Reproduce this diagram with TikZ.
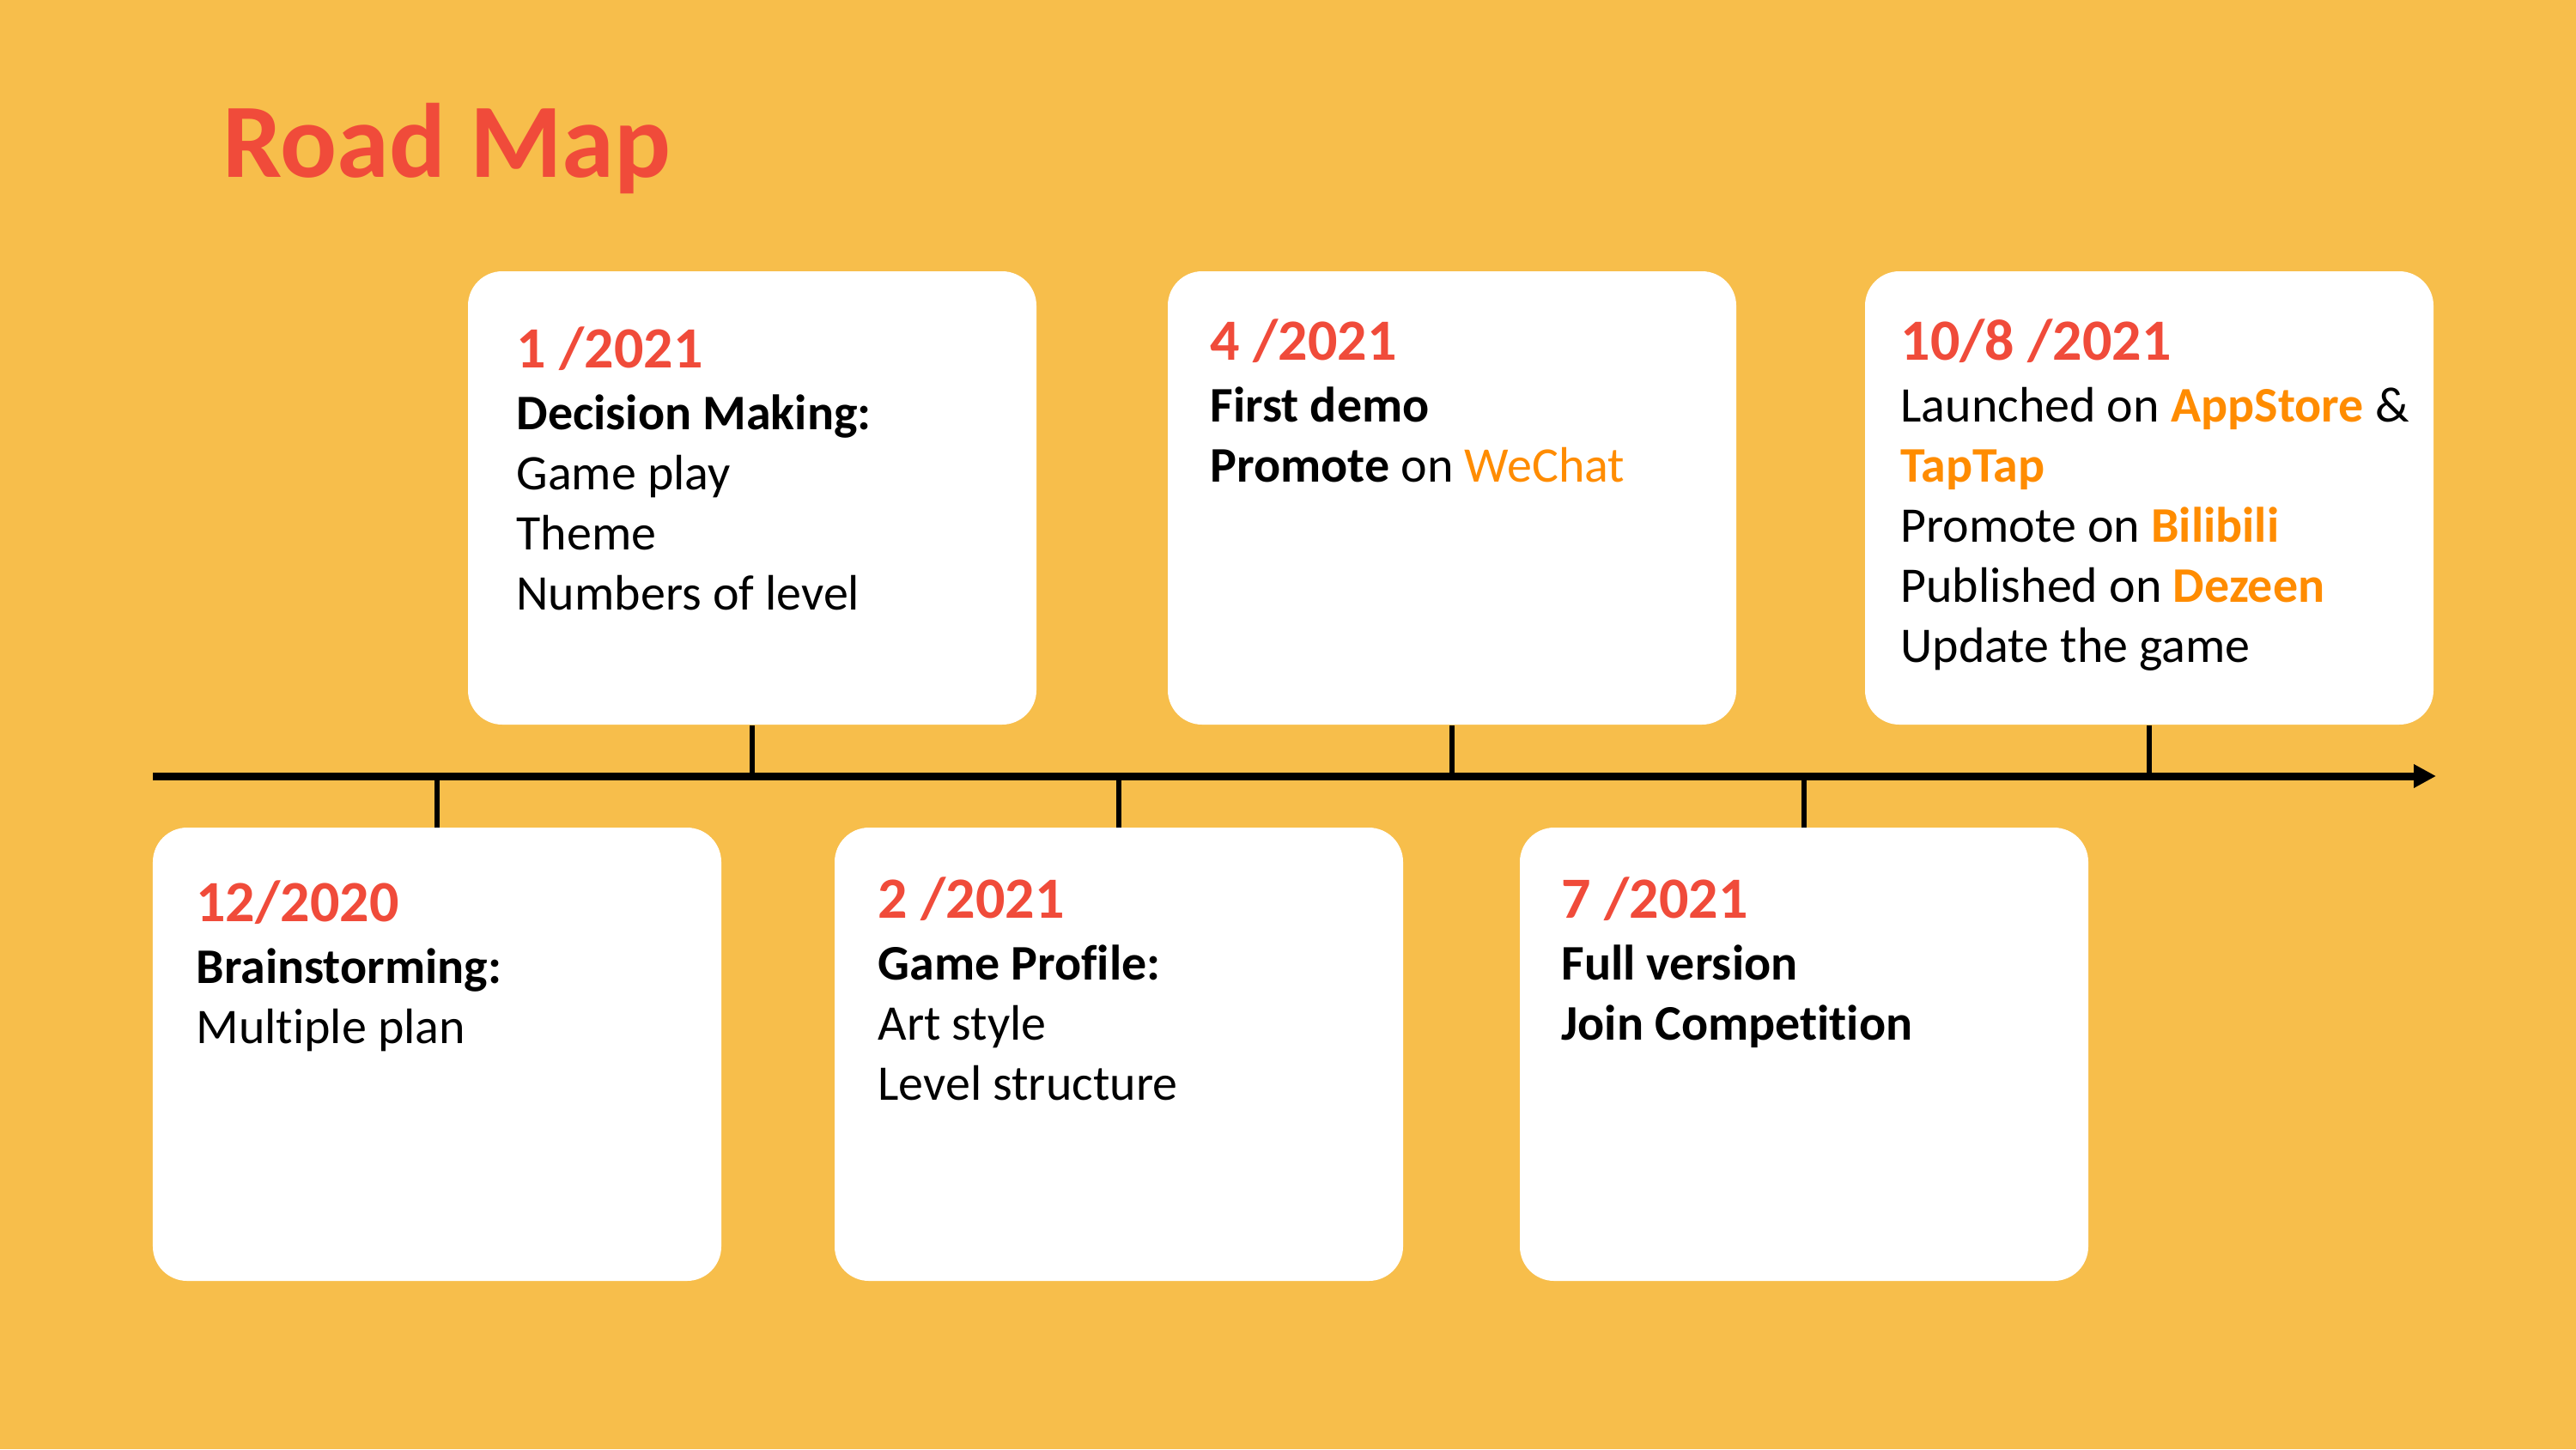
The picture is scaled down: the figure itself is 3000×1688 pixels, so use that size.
\documentclass[tikz,border=0pt]{standalone}
\usepackage{fontspec}
\setmainfont[Ligatures=NoCommon]{Carlito}
\usetikzlibrary{arrows.meta}

\definecolor{bgamber}{HTML}{F7BE4B}
\definecolor{datered}{HTML}{F04B3A}
\definecolor{hiorange}{HTML}{FF8C00}

\newcommand{\hl}[1]{\textcolor{hiorange}{#1}}
\newcommand{\hlb}[1]{\textcolor{hiorange}{\bfseries #1}}
% one line of a card; the first one carries the date
\newcommand{\rowtext}[1]{\hbox{#1}}
\newcommand{\daterow}[1]{\hbox{\fontsize{27.2}{28}\selectfont\bfseries\color{datered}#1}\kern0.8pt}

\tikzset{
  card/.style={fill=white, draw=none, rounded corners=16pt,
    minimum width=264.8pt, minimum height=211.2pt, inner sep=0pt},
  cardtext/.style={anchor=base west, inner sep=0pt,
    font=\fontsize{23.2}{28}\selectfont},
  tick/.style={line width=2.2pt, black},
  axis/.style={line width=3.6pt, black,
    -{Triangle[length=10.4pt,width=10.4pt]}},
}

\begin{document}
\begin{tikzpicture}[x=0.4pt, y=-0.4pt]
  % page background
  \fill[bgamber] (0,0) rectangle (3000,1688);
  \useasboundingbox (0,0) rectangle (3000,1688);

  % title
  \node[anchor=base west, inner sep=0pt, text=datered,
        font=\fontsize{49.2}{59}\selectfont\bfseries] (title) at (259,206) {Road Map};

  % timeline
  \coordinate (axisL) at (178,904);
  \coordinate (axisR) at (2837,904);
  \draw[axis] (axisL) -- (axisR);

  % cards above the line
  \node[card] (c1) at (876,580) {};
  \node[card] (c4) at (1691,580) {};
  \node[card] (c10) at (2503,580) {};
  % cards below the line
  \node[card] (c12) at (509,1228) {};
  \node[card] (c2) at (1303,1228) {};
  \node[card] (c7) at (2101,1228) {};

  % ticks joining each card to the line
  \foreach \c in {c1,c4,c10}
    \draw[tick] (\c.south |- axisL) -- (\c.south);
  \foreach \c in {c12,c2,c7}
    \draw[tick] (\c.north |- axisL) -- (\c.north);

  % card texts (anchored on the baseline of the date)
  \node[cardtext] (t1) at (601,428) {\vtop{\daterow{1 /2021}
    \rowtext{\bfseries Decision Making:}\rowtext{Game play}
    \rowtext{Theme}\rowtext{Numbers of level}}};
  \node[cardtext] (t4) at (1409,419) {\vtop{\daterow{4 /2021}
    \rowtext{\bfseries First demo}
    \rowtext{\textbf{Promote} on \hl{WeChat}}}};
  \node[cardtext] (t10) at (2213,419) {\vtop{\daterow{10/8 /2021}
    \rowtext{Launched on \hlb{AppStore} \&}\rowtext{\hlb{TapTap}}
    \rowtext{Promote on \hlb{Bilibili}}\rowtext{Published on \hlb{Dezeen}}
    \rowtext{Update the game}}};
  \node[cardtext] (t12) at (228,1073) {\vtop{\daterow{12/2020}
    \rowtext{\bfseries Brainstorming:}\rowtext{Multiple plan}}};
  \node[cardtext] (t2) at (1022,1069) {\vtop{\daterow{2 /2021}
    \rowtext{\bfseries Game Profile:}\rowtext{Art style}
    \rowtext{Level structure}}};
  \node[cardtext] (t7) at (1818,1069) {\vtop{\daterow{7 /2021}
    \rowtext{\bfseries Full version}\rowtext{\bfseries Join Competition}}};
\end{tikzpicture}
\end{document}
